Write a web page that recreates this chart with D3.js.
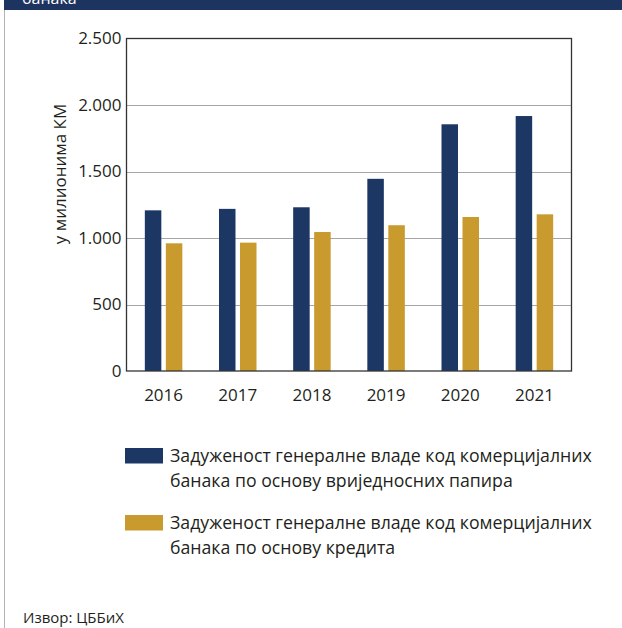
<!DOCTYPE html>
<meta charset="utf-8">
<head>
  <title>Задуженост генералне владе</title>
</head>
<style>
    body { margin: 0; background: #fff; }
    svg text { font-family: "Open Sans", "Noto Sans", sans-serif; fill: #231f20; }
</style>
<body>
<svg id="chart" width="622" height="628"></svg>
<script src="https://cdn.jsdelivr.net/npm/d3@7"></script>
<script>
    var years = ["2016", "2017", "2018", "2019", "2020", "2021"];
    var securities = [1208, 1219, 1231, 1445, 1855, 1917];
    var loans = [960, 965, 1045, 1096, 1158, 1178];
    var yTicks = [0, 500, 1000, 1500, 2000, 2500];
    var seriesNames = [
        ["Задуженост генералне владе код комерцијалних", "банака по основу вриједносних папира"],
        ["Задуженост генералне владе код комерцијалних", "банака по основу кредита"]
    ];
    var colors = ["#1d3764", "#c99a2e"];

    var svg = d3.select("#chart");

    // header strip and left border
    svg.append("rect").attr("x", 4).attr("y", 0).attr("width", 618).attr("height", 10).attr("fill", "#1d3461");
    svg.append("text").attr("x", 22).attr("y", 4).attr("font-size", 16).style("fill", "#fff").text("банака");
    svg.append("line").attr("x1", 4.5).attr("x2", 4.5).attr("y1", 10).attr("y2", 628)
        .attr("stroke", "#b3b3b3").attr("stroke-width", 1);

    var plotL = 126.5, plotR = 571.5, plotT = 38.5, plotB = 371;

    var x = d3.scaleBand().domain(years).range([plotL, plotR]).padding(0);
    var y = d3.scaleLinear().domain([0, 2500]).range([plotB, plotT]);

    // gridlines
    svg.append("g").selectAll("line").data(yTicks.slice(1, -1)).join("line")
        .attr("x1", plotL).attr("x2", plotR)
        .attr("y1", d => Math.round(y(d)) + 0.5).attr("y2", d => Math.round(y(d)) + 0.5)
        .attr("stroke", "#a6a6a6").attr("stroke-width", 1);

    // bars
    var barW = 16.5, gap = 4.5;
    var series = [securities, loans];
    series.forEach(function(vals, s) {
        svg.append("g").selectAll("rect").data(years).join("rect")
            .attr("x", (d, i) => x(d) + x.bandwidth() / 2 - barW - gap / 2 + s * (barW + gap))
            .attr("y", (d, i) => y(vals[i]))
            .attr("width", barW)
            .attr("height", (d, i) => y(0) - y(vals[i]))
            .attr("fill", colors[s]);
    });

    // frame
    svg.append("rect").attr("x", plotL).attr("y", plotT).attr("width", plotR - plotL).attr("height", plotB - plotT)
        .attr("fill", "none").attr("stroke", "#333").attr("stroke-width", 1.3);

    // y axis labels
    var yAxis = d3.axisLeft(y).tickValues(yTicks).tickSize(0).tickPadding(5)
        .tickFormat(d => d3.format(",")(d).replace(",", "."));
    svg.append("g").attr("transform", "translate(" + plotL + ",0)").call(yAxis)
        .call(g => g.select(".domain").remove())
        .selectAll("text").attr("font-size", 17).style("font-family", "'Open Sans', sans-serif").attr("fill", "#231f20");

    // x axis labels
    var xAxis = d3.axisBottom(x).tickSize(0).tickPadding(18);
    svg.append("g").attr("transform", "translate(0," + plotB + ")").call(xAxis)
        .call(g => g.select(".domain").remove())
        .selectAll("text").attr("font-size", 17).style("font-family", "'Open Sans', sans-serif").attr("fill", "#231f20");

    // y title
    svg.append("text")
        .attr("transform", "translate(66,174) rotate(-90)")
        .attr("text-anchor", "middle").attr("font-size", 17)
        .text("у милионима КМ");

    // legend
    seriesNames.forEach(function(lines, s) {
        var ly = 448 + s * 67;
        svg.append("rect").attr("x", 125).attr("y", ly).attr("width", 38).attr("height", 15.5).attr("fill", colors[s]);
        lines.forEach(function(t, k) {
            svg.append("text").attr("x", 170).attr("y", ly + 14 + k * 25)
                .attr("font-size", 17.7).text(t);
        });
    });

    // source
    svg.append("text").attr("x", 23).attr("y", 623).attr("font-size", 15).text("Извор: ЦББиХ");
</script>
</body>
